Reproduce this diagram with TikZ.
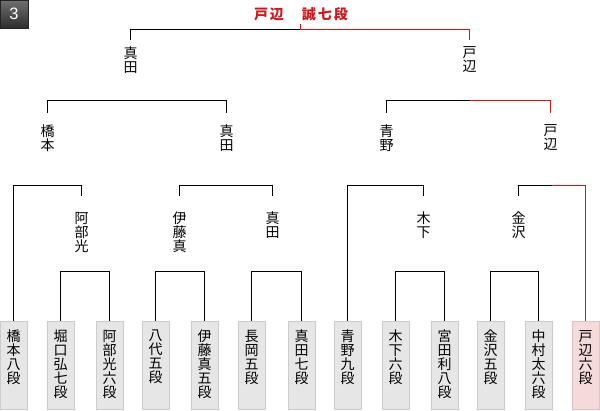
\documentclass[tikz,border=0pt]{standalone}
\usepackage{fontspec}
\newfontfamily\jp{Noto Sans CJK JP}
\newfontfamily\numfont{Liberation Sans}
\definecolor{winred}{RGB}{222,18,18}
\definecolor{titlered}{RGB}{212,20,24}
\definecolor{boxfill}{RGB}{230,230,230}
\definecolor{boxline}{RGB}{204,204,204}
\definecolor{pinkfill}{RGB}{245,218,219}
\definecolor{pinkline}{RGB}{228,192,194}
\definecolor{badgetop}{RGB}{112,112,112}
\definecolor{badgebot}{RGB}{44,44,44}
\begin{document}
\begin{tikzpicture}[x=1pt,y=-1pt,
  ln/.style={line width=1pt, black},
  win/.style={line width=1pt, winred},
  vtext/.style={font=\jp\fontsize{14}{14}\selectfont, align=center, inner sep=0pt, anchor=north},
  lvlA/.style={vtext, outer ysep=7pt},
  lvlB/.style={vtext, outer ysep=12pt},
  lvlC/.style={vtext, outer ysep=16pt},
  entry/.style={draw=boxline, fill=boxfill, line width=0.8pt, minimum width=27pt, minimum height=88pt, inner sep=0pt, anchor=north},
  champ/.style={entry, draw=pinkline, fill=pinkfill}
]
\useasboundingbox (0,0) rectangle (600,410);

% badge
\shade[top color=badgetop, bottom color=badgebot] (0,0) rectangle (28.5,28.5);
\draw[badgebot!80!black, line width=0.8pt] (0.4,0.4) rectangle (28.1,28.1);
\node[font=\numfont\fontsize{16.5}{16.5}\selectfont, text=white, inner sep=0pt] (badge) at (14,13.5) {3};

% title
\node[font=\jp\bfseries\fontsize{14}{14}\selectfont, text=titlered, inner sep=0pt] (title) at (301,14)
  {戸\kern2pt 辺\kern18pt 誠\kern2pt 七\kern2pt 段};

% rows
\coordinate (r1) at (0,271.5);
\coordinate (r2) at (0,185.5);
\coordinate (r3) at (0,100.5);
\coordinate (tk) at (300.5,29.5);
\coordinate (tt) at (300.5,24);
\coordinate (m5) at (551.5,185.5);

% entry boxes
\node[entry] (b1)  at (13.5,321) {};
\node[entry] (b2)  at (60.5,321) {};
\node[entry] (b3)  at (109.5,321) {};
\node[entry] (b4)  at (155.5,321) {};
\node[entry] (b5)  at (204.5,321) {};
\node[entry] (b6)  at (251.5,321) {};
\node[entry] (b7)  at (301.5,321) {};
\node[entry] (b8)  at (347.5,321) {};
\node[entry] (b9)  at (395.5,321) {};
\node[entry] (b10) at (444.5,321) {};
\node[entry] (b11) at (490.5,321) {};
\node[entry] (b12) at (538.5,321) {};
\node[champ] (b13) at (585.5,321) {};

\node[vtext] (t1)  at ([yshift=-9pt]b1.north)  {橋\\本\\八\\段};
\node[vtext] (t2)  at ([yshift=-9pt]b2.north)  {堀\\口\\弘\\七\\段};
\node[vtext] (t3)  at ([yshift=-9pt]b3.north)  {阿\\部\\光\\六\\段};
\node[vtext] (t4)  at ([yshift=-9pt]b4.north)  {八\\代\\五\\段};
\node[vtext] (t5)  at ([yshift=-9pt]b5.north)  {伊\\藤\\真\\五\\段};
\node[vtext] (t6)  at ([yshift=-9pt]b6.north)  {長\\岡\\五\\段};
\node[vtext] (t7)  at ([yshift=-9pt]b7.north)  {真\\田\\七\\段};
\node[vtext] (t8)  at ([yshift=-9pt]b8.north)  {青\\野\\九\\段};
\node[vtext] (t9)  at ([yshift=-9pt]b9.north)  {木\\下\\六\\段};
\node[vtext] (t10) at ([yshift=-9pt]b10.north) {宮\\田\\利\\八\\段};
\node[vtext] (t11) at ([yshift=-9pt]b11.north) {金\\沢\\五\\段};
\node[vtext] (t12) at ([yshift=-9pt]b12.north) {中\\村\\太\\六\\段};
\node[vtext] (t13) at ([yshift=-9pt]b13.north) {戸\\辺\\六\\段};

% round 2 winners
\node[lvlC] (q1) at (81.5,196)  {阿\\部\\光};
\node[lvlC] (q2) at (179.5,196) {伊\\藤\\真};
\node[lvlC] (q3) at (272.5,196) {真\\田};
\node[lvlC] (q4) at (423.5,196) {木\\下};
\node[lvlC] (q5) at (518.5,196) {金\\沢};

% semifinal participants
\node[lvlB] (s1) at (47.5,113)  {橋\\本};
\node[lvlB] (s2) at (226.5,113) {真\\田};
\node[lvlB] (s3) at (386.5,113) {青\\野};
\node[lvlB] (s4) at (550.5,113) {戸\\辺};

% finalists
\node[lvlA] (f1) at (130.5,40) {真\\田};
\node[lvlA] (f2) at (469.5,40) {戸\\辺};

% round 1 brackets
\draw[ln] (b2.north) |- (r1 -| b3.north) -- (b3.north);
\draw[ln] (b4.north) |- (r1 -| b5.north) -- (b5.north);
\draw[ln] (b6.north) |- (r1 -| b7.north) -- (b7.north);
\draw[ln] (b9.north) |- (r1 -| b10.north) -- (b10.north);
\draw[ln] (b11.north) |- (r1 -| b12.north) -- (b12.north);

% round 2 brackets
\draw[ln] (b1.north) |- (r2 -| q1.north) -- (q1.north);
\draw[ln] (q2.north) |- (r2 -| q3.north) -- (q3.north);
\draw[ln] (b8.north) |- (r2 -| q4.north) -- (q4.north);
\draw[ln] (q5.north) |- (m5);
\draw[win] (m5) -| (b13.north);

% semifinal brackets
\draw[ln] (s1.north) |- (r3 -| s2.north) -- (s2.north);
\draw[ln] (s3.north) |- (r3 -| f2.north);
\draw[win] (r3 -| f2.north) -| (s4.north);

% final
\draw[ln] (f1.north) |- (tk);
\draw[win] (tk) -| (f2.north);
\draw[win] (tk) -- (tt);
\end{tikzpicture}
\end{document}
